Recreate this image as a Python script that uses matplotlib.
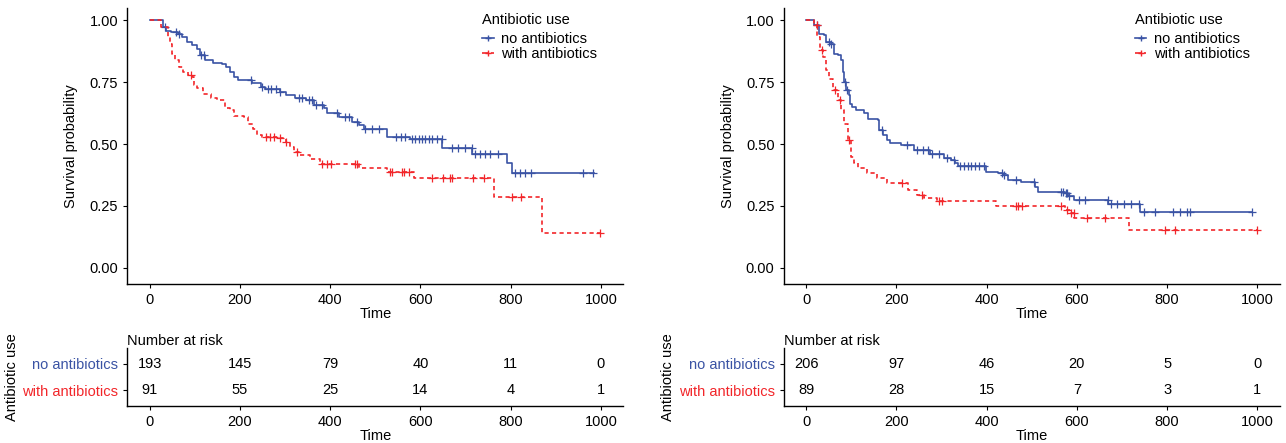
import numpy as np
import matplotlib
matplotlib.use('Agg')
import matplotlib.pyplot as plt
from matplotlib.lines import Line2D

plt.rcParams['font.family'] = ['Liberation Sans', 'DejaVu Sans']
plt.rcParams['font.size'] = 10.5

BLUE = '#3A53A4'
RED = '#F2262A'
groups = ['no antibiotics', 'with antibiotics']
risk_times = [0, 200, 400, 600, 800, 1000]

# left panel: knots of the KM step curves (time, survival) and censor times
l_no_t = [0, 29, 37, 48, 62, 72, 82, 93, 104, 112, 122, 140, 160, 170, 178, 188, 196,
          222, 226, 246, 256, 290, 302, 322, 346, 364, 386, 393, 419, 449, 464, 475,
          526, 578, 649, 715, 792, 802, 985]
l_no_s = [1.0, 0.973, 0.957, 0.953, 0.944, 0.933, 0.913, 0.899, 0.886, 0.859, 0.839,
          0.828, 0.823, 0.812, 0.792, 0.771, 0.761, 0.758, 0.745, 0.729, 0.721, 0.711,
          0.698, 0.688, 0.677, 0.657, 0.644, 0.624, 0.608, 0.59, 0.577, 0.563, 0.53,
          0.52, 0.483, 0.462, 0.422, 0.384, 0.384]
l_no_cens = [33, 58, 64, 114, 121, 224, 250, 262, 270, 280, 290, 331, 338, 353, 360, 368,
             383, 416, 434, 441, 460, 478, 493, 508, 545, 556, 567, 581, 588, 596, 603,
             611, 618, 625, 636, 648, 670, 684, 699, 714, 721, 732, 743, 754, 773, 809,
             820, 831, 846, 960, 982]

l_ab_t = [0, 26, 40, 46, 50, 56, 66, 75, 84, 93, 98, 106, 118, 135, 150, 168, 178, 186,
          210, 219, 229, 237, 250, 290, 302, 312, 320, 331, 355, 378, 464, 525, 585,
          764, 870, 998]
l_ab_s = [1.0, 0.973, 0.933, 0.906, 0.866, 0.839, 0.812, 0.792, 0.778, 0.771, 0.738,
          0.725, 0.704, 0.688, 0.68, 0.644, 0.637, 0.613, 0.61, 0.583, 0.563, 0.536,
          0.529, 0.523, 0.509, 0.489, 0.469, 0.456, 0.44, 0.42, 0.403, 0.388, 0.363,
          0.286, 0.141, 0.141]
l_ab_cens = [91, 258, 266, 276, 290, 302, 327, 383, 393, 401, 456, 460, 533, 537, 559,
             563, 574, 625, 651, 666, 670, 717, 740, 802, 824, 997]

l_risk_no = [193, 145, 79, 40, 11, 0]
l_risk_ab = [91, 55, 25, 14, 4, 1]

# right panel
r_no_t = [0, 18, 29, 40, 45, 55, 62, 70, 77, 82, 85, 88, 95, 98, 101, 110, 128, 137,
          160, 162, 170, 180, 186, 210, 240, 275, 305, 320, 329, 337, 398, 425, 436,
          448, 477, 507, 514, 574, 580, 594, 670, 740, 987]
r_no_s = [1.0, 0.98, 0.946, 0.94, 0.913, 0.906, 0.866, 0.859, 0.839, 0.79, 0.751, 0.718,
          0.698, 0.664, 0.65, 0.637, 0.624, 0.603, 0.597, 0.556, 0.536, 0.516, 0.503,
          0.496, 0.476, 0.462, 0.442, 0.435, 0.422, 0.411, 0.388, 0.384, 0.375, 0.355,
          0.345, 0.328, 0.308, 0.301, 0.29, 0.274, 0.258, 0.227, 0.227]
r_no_cens = [24, 50, 55, 86, 90, 168, 223, 246, 260, 270, 280, 294, 313, 327, 342, 350,
             358, 366, 374, 382, 394, 435, 438, 464, 505, 564, 570, 575, 579, 583, 604,
             619, 668, 676, 690, 705, 720, 738, 749, 772, 813, 828, 843, 850, 987]

r_ab_t = [0, 18, 25, 30, 37, 44, 51, 59, 70, 77, 85, 92, 100, 107, 114, 135, 158, 180,
          225, 246, 262, 290, 420, 574, 586, 594, 715, 1000]
r_ab_s = [1.0, 0.98, 0.933, 0.879, 0.852, 0.798, 0.765, 0.718, 0.677, 0.637, 0.583,
          0.516, 0.449, 0.422, 0.402, 0.382, 0.362, 0.344, 0.315, 0.294, 0.281, 0.27,
          0.25, 0.234, 0.22, 0.2, 0.153, 0.153]
r_ab_cens = [24, 35, 64, 76, 94, 213, 257, 294, 301, 464, 470, 479, 564, 579, 586, 593,
             622, 663, 796, 818, 1000]

r_risk_no = [206, 97, 46, 20, 5, 0]
r_risk_ab = [89, 28, 15, 7, 3, 1]


def surv_at(t, s, x):
    idx = np.searchsorted(t, x, side='right') - 1
    return np.asarray(s)[idx]


def style(ax):
    for sp in ['top', 'right']:
        ax.spines[sp].set_visible(False)
    for sp in ['left', 'bottom']:
        ax.spines[sp].set_linewidth(1.0)
    ax.tick_params(direction='out', length=3, width=0.8, colors='black', labelsize=10.5)


def km_panel(left, curves, risk, leg_x):
    ax = fig.add_axes([left, 0.359, 0.386, 0.623])
    for (t, s, cens), col, ls in zip(curves, [BLUE, RED], ['-', (0, (2.5, 2))]):
        ax.step(t, s, where='post', color=col, lw=1.2, ls=ls)
        ax.plot(cens, surv_at(t, s, cens), '+', color=col, ms=6, mew=0.9)
    ax.set_xlim(-50, 1050)
    ax.set_ylim(-0.065, 1.05)
    ax.set_xticks(risk_times)
    ax.set_yticks([0, 0.25, 0.5, 0.75, 1.0])
    ax.set_yticklabels(['0.00', '0.25', '0.50', '0.75', '1.00'])
    style(ax)
    ax.set_xlabel('Time', labelpad=0)
    ax.set_ylabel('Survival probability', labelpad=8)
    handles = [Line2D([], [], color=BLUE, lw=1.2, marker='+', ms=5),
               Line2D([], [], color=RED, lw=1.2, ls='--', marker='+', ms=5)]
    leg = ax.legend(handles, groups, title='Antibiotic use', loc='upper left',
                    bbox_to_anchor=(leg_x, 1.02), frameon=False, handlelength=0.8,
                    handletextpad=0.5, labelspacing=0.05, borderpad=0.2,
                    alignment='left', fontsize=10.5, title_fontsize=10.5)
    leg._legend_box.sep = 4

    tb = fig.add_axes([left, 0.0835, 0.386, 0.131])
    tb.set_xlim(-50, 1050)
    tb.set_ylim(0.4, 2.6)
    for x, a, b in zip(risk_times, risk[0], risk[1]):
        tb.text(x, 2, str(a), ha='center', va='center', fontsize=10.5)
        tb.text(x, 1, str(b), ha='center', va='center', fontsize=10.5)
    tb.set_xticks(risk_times)
    tb.set_yticks([2, 1])
    tb.set_yticklabels(groups)
    style(tb)
    for lab, col in zip(tb.get_yticklabels(), [BLUE, RED]):
        lab.set_color(col)
    tb.set_xlabel('Time', labelpad=0)
    tb.set_ylabel('Antibiotic use')
    tb.yaxis.set_label_coords(-0.218, 0.5)
    tb.set_title('Number at risk', loc='left', fontsize=10.5, pad=2)
    return ax, tb


fig = plt.figure(figsize=(12.86, 4.43), dpi=100)
km_panel(0.0988, [(l_no_t, l_no_s, l_no_cens), (l_ab_t, l_ab_s, l_ab_cens)],
         (l_risk_no, l_risk_ab), 0.695)
km_panel(0.6093, [(r_no_t, r_no_s, r_no_cens), (r_ab_t, r_ab_s, r_ab_cens)],
         (r_risk_no, r_risk_ab), 0.687)

fig.savefig('out.png', dpi=100)
